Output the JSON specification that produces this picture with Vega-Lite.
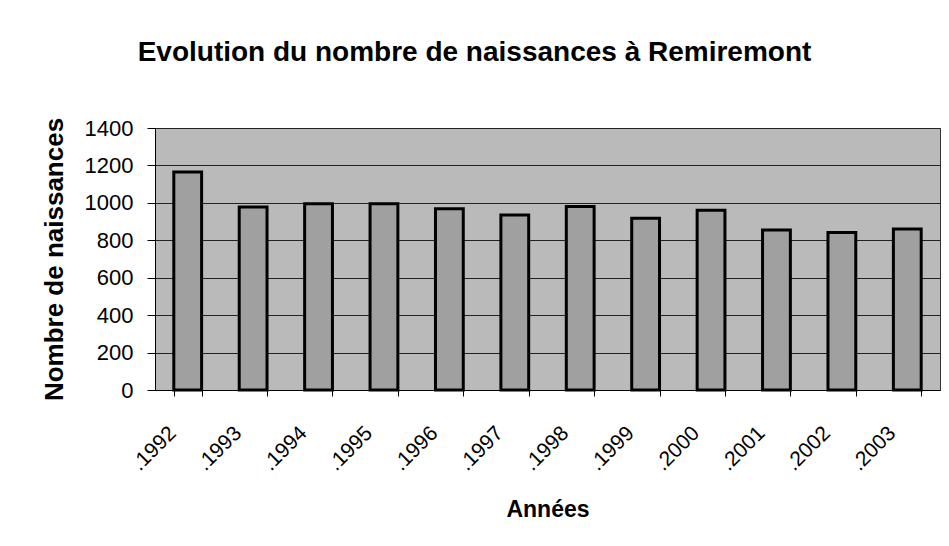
{
  "$schema": "https://vega.github.io/schema/vega-lite/v6.json",
  "width": 785,
  "height": 262,
  "autosize": {"type": "none"},
  "padding": {"left": 155, "top": 128, "right": 9, "bottom": 156},
  "background": "white",
  "title": {
    "text": "Evolution du nombre de naissances à Remiremont",
    "font": "Liberation Sans",
    "fontSize": 28,
    "fontWeight": "bold",
    "color": "black",
    "anchor": "middle",
    "offset": 50,
    "dx": -73
  },
  "data": {
    "values": [
      {"annee": "1992", "naissances": 1165},
      {"annee": "1993", "naissances": 978},
      {"annee": "1994", "naissances": 995},
      {"annee": "1995", "naissances": 995},
      {"annee": "1996", "naissances": 968},
      {"annee": "1997", "naissances": 935},
      {"annee": "1998", "naissances": 980},
      {"annee": "1999", "naissances": 918},
      {"annee": "2000", "naissances": 960},
      {"annee": "2001", "naissances": 855},
      {"annee": "2002", "naissances": 842},
      {"annee": "2003", "naissances": 860}
    ]
  },
  "mark": {"type": "bar", "fill": "#a0a0a0", "stroke": "black", "strokeWidth": 3},
  "encoding": {
    "x": {
      "field": "annee",
      "type": "ordinal",
      "scale": {"paddingInner": 0.575, "paddingOuter": 0.2875},
      "axis": {
        "title": "Années",
        "labelExpr": "datum.label ? '.' + datum.label : ''",
        "labelAngle": -45,
        "labelFont": "Liberation Sans",
        "labelFontSize": 21,
        "labelColor": "black",
        "labelPadding": 26,
        "labelOffset": -23,
        "tickBand": "extent",
        "tickSize": 6,
        "tickColor": "black",
        "domainColor": "black",
        "titleFont": "Liberation Sans",
        "titleFontSize": 23,
        "titleFontWeight": "bold",
        "titleColor": "black",
        "titlePadding": 24
      }
    },
    "y": {
      "field": "naissances",
      "type": "quantitative",
      "scale": {"domain": [0, 1400]},
      "axis": {
        "title": "Nombre de naissances",
        "values": [0, 200, 400, 600, 800, 1000, 1200, 1400],
        "format": "d",
        "labelFont": "Liberation Sans",
        "labelFontSize": 22,
        "labelColor": "black",
        "labelPadding": 14,
        "tickSize": 8,
        "tickColor": "black",
        "domainColor": "black",
        "gridColor": "#222222",
        "gridWidth": 1,
        "gridOpacity": 1,
        "titleFont": "Liberation Sans",
        "titleFontSize": 26,
        "titleFontWeight": "bold",
        "titleColor": "black",
        "titlePadding": 17
      }
    }
  },
  "config": {
    "view": {"fill": "#bababa", "stroke": "#333333", "strokeWidth": 1}
  }
}
